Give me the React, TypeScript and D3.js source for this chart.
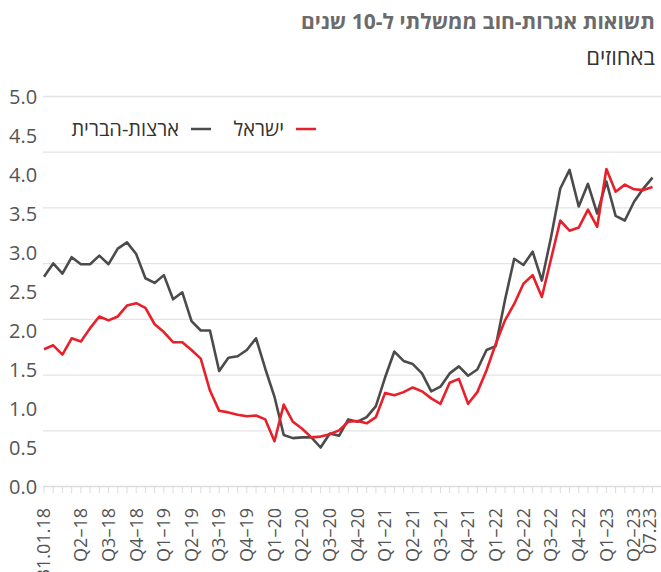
import React from 'react';
import * as d3 from 'd3';

// 10-year government bond yields, monthly, Jan 2018 - Jul 2023 (percent)
const israel = [
  1.76, 1.81, 1.69, 1.90, 1.86, 2.03, 2.18, 2.13, 2.18, 2.32, 2.35, 2.29,
  2.08, 1.98, 1.85, 1.85, 1.75, 1.64, 1.23, 0.97, 0.95, 0.92, 0.90, 0.91,
  0.86, 0.58, 1.05, 0.83, 0.74, 0.63, 0.64, 0.67, 0.72, 0.83, 0.84, 0.81,
  0.89, 1.20, 1.17, 1.21, 1.27, 1.22, 1.13, 1.06, 1.33, 1.38, 1.06, 1.21,
  1.49, 1.83, 2.13, 2.34, 2.60, 2.71, 2.43, 2.92, 3.41, 3.28, 3.32, 3.55,
  3.33, 4.07, 3.78, 3.87, 3.81, 3.80, 3.84,
];

const usa = [
  2.69, 2.86, 2.73, 2.94, 2.85, 2.85, 2.96, 2.85, 3.05, 3.13, 2.98, 2.67,
  2.61, 2.71, 2.40, 2.49, 2.12, 2.00, 2.00, 1.48, 1.65, 1.67, 1.75, 1.90,
  1.51, 1.15, 0.66, 0.62, 0.63, 0.63, 0.50, 0.68, 0.65, 0.86, 0.83, 0.89,
  1.03, 1.40, 1.73, 1.61, 1.57, 1.45, 1.22, 1.28, 1.45, 1.54, 1.42, 1.50,
  1.75, 1.80, 2.39, 2.92, 2.84, 3.01, 2.64, 3.20, 3.82, 4.06, 3.59, 3.88,
  3.50, 3.91, 3.47, 3.41, 3.65, 3.82, 3.96,
];

const xTickLabels = [
  '31.01.18', 'Q2–18', 'Q3–18', 'Q4–18', 'Q1–19', 'Q2–19', 'Q3–19', 'Q4–19',
  'Q1–20', 'Q2–20', 'Q3–20', 'Q4–20', 'Q1–21', 'Q2–21', 'Q3–21', 'Q4–21',
  'Q1–22', 'Q2–22', 'Q3–22', 'Q4–22', 'Q1–23', 'Q2–23', '07.23',
];
// month index (0 = Jan 2018) of each label
const xTickMonths = [
  0, 4, 7, 10, 13, 16, 19, 22, 25, 28, 31, 34, 37, 40, 43, 46, 49, 52, 55, 58,
  61, 64, 66,
];

const yTicks = [0, 0.5, 1, 1.5, 2, 2.5, 3, 3.5, 4, 4.5, 5];

const title = 'תשואות אגרות-חוב ממשלתי ל-10 שנים';
const subtitle = 'באחוזים';
const seriesNames = ['ישראל', 'ארצות-הברית'];

const W = 661;
const H = 572;
const FONT = "'Open Sans', 'Liberation Sans', 'DejaVu Sans', sans-serif";
const RED = '#e8202a';
const GREY = '#4b4b4b';

export default function App() {
  const months = d3.range(israel.length);
  const x = d3.scaleLinear().domain([0, months.length - 1]).range([44, 652.5]);
  const y = d3.scaleLinear().domain([0, 5]).range([486.5, 96.5]);
  // the horizontal guides in the original are spread in 7 equal bands
  const grid = d3.scaleLinear().domain([0, 7]).range([486.5, 96.5]);

  const line = d3.line<number>()
    .x((_, i) => x(i))
    .y(d => y(d));

  return (
    <svg width={W} height={H} style={{ display: 'block', position: 'absolute', left: 0, top: 0, background: '#fff' }}>
      <text x={655} y={29} direction="rtl" textAnchor="start" fontFamily={FONT}
        fontSize={21} fontWeight="bold" fill="#6b6b6b">{title}</text>
      <text x={655} y={65} direction="rtl" textAnchor="start" fontFamily={FONT}
        fontSize={22} fill="#333">{subtitle}</text>

      {d3.range(1, 8).map(i => (
        <line key={i} x1={43} x2={W} y1={grid(i)} y2={grid(i)} stroke="#e3e3e3" strokeWidth={1.3} />
      ))}
      <line x1={43} x2={W} y1={y(0)} y2={y(0)} stroke="#dcdcdc" strokeWidth={1.3} />
      {months.map(i => (
        <line key={i} x1={x(i)} x2={x(i)} y1={y(0)} y2={y(0) + 6.5} stroke="#dcdcdc" strokeWidth={1} />
      ))}

      {yTicks.map(t => (
        <text key={t} x={9} y={y(t)} dy="0.35em" fontFamily={FONT} fontSize={20} fill="#555">
          {t.toFixed(1)}
        </text>
      ))}

      {xTickLabels.map((l, k) => (
        <text key={l} transform={`translate(${Math.min(x(xTickMonths[k]), 650)},508) rotate(-90)`} dy="0.35em"
          textAnchor="end" fontFamily={FONT} fontSize={18} fill="#555">{l}</text>
      ))}

      <path d={line(usa) ?? ''} fill="none" stroke={GREY} strokeWidth={2.6} strokeLinejoin="round" />
      <path d={line(israel) ?? ''} fill="none" stroke={RED} strokeWidth={2.6} strokeLinejoin="round" />

      <g fontFamily={FONT} fontSize={20} fill="#333">
        <line x1={296} x2={316} y1={129} y2={129} stroke={RED} strokeWidth={2.5} />
        <text x={284} y={129} dy="0.35em" direction="rtl" textAnchor="start">{seriesNames[0]}</text>
        <line x1={191} x2={211} y1={129} y2={129} stroke={GREY} strokeWidth={2.5} />
        <text x={179} y={129} dy="0.35em" direction="rtl" textAnchor="start">{seriesNames[1]}</text>
      </g>
    </svg>
  );
}
